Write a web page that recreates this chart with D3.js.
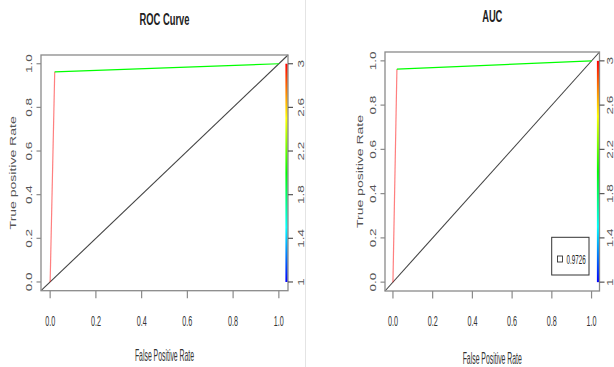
<!DOCTYPE html>
<html>
<head>
<meta charset="utf-8">
<script src="https://cdn.jsdelivr.net/npm/d3@7"></script>
<style>
  body { margin: 0; background: #fff; }
  svg { display: block; }
  text { font-family: "Liberation Sans", Arial, sans-serif; fill: #222; }
</style>
</head>
<body>
<div id="chart"></div>
<script>
// --- data ---
const fpr = [0, 0.02, 1];
const tpr = [0, 0.963, 1];
const cutoffs = [Infinity, 3, 2];          // cutoff at each ROC point
const axisTicks = [0, 0.2, 0.4, 0.6, 0.8, 1.0];
const cutoffTicks = [1, 1.4, 1.8, 2.2, 2.6, 3];
const panelTitles = ["ROC Curve", "AUC"];
const aucValue = "0.9726";

const w = 614, h = 367;

const svg = d3.select("#chart").append("svg")
    .attr("width", w)
    .attr("height", h);

svg.append("rect").attr("width", w).attr("height", h).attr("fill", "#fff");

// faint seam between the two screenshots
svg.append("line")
    .attr("x1", 305.5).attr("x2", 305.5).attr("y1", 0).attr("y2", h)
    .attr("stroke", "#e4e4e4");

// rainbow colour for cutoff values (1 = blue, 3 = red)
const cutColor = d3.scaleLinear().domain([1, 3]).range([240, 0]);
function colorOf(v) { return d3.hsl(cutColor(Math.min(v, 3)), 1, 0.5).toString(); }

// condensed text helper (the reference is squeezed horizontally)
function label(g, x, y, str, o) {
    const t = g.append("text")
        .attr("transform", "translate(" + x + "," + y + ") scale(" + o.sx + ",1)" + (o.rot ? " rotate(-90)" : ""))
        .attr("text-anchor", o.anchor || "middle")
        .attr("font-size", o.size)
        .text(str);
    if (o.bold) t.attr("font-weight", "bold");
    if (o.dy) t.attr("dy", o.dy);
    if (o.fill) t.style("fill", o.fill);
    return t;
}

const panels = [
    { x0: 41, x1: 288, y0: 290.7, y1: 55, titleY: 25, xlabY: 361, ytickX: 29, ylabX: 13, cbX: 301, legend: false },
    { x0: 385, x1: 599.5, y0: 291, y1: 52, titleY: 22, xlabY: 364, ytickX: 373, ylabX: 360, cbX: 609.5, legend: true }
];

// gradient for the colour bar
const defs = svg.append("defs");
const grad = defs.append("linearGradient")
    .attr("id", "cbar").attr("x1", 0).attr("x2", 0).attr("y1", 1).attr("y2", 0);
d3.range(0, 1.0001, 0.05).forEach(function (t) {
    grad.append("stop").attr("offset", t).attr("stop-color", colorOf(1 + 2 * t));
});

panels.forEach(function (p, i) {
    const g = svg.append("g");

    const xScale = d3.scaleLinear().domain([-0.04, 1.04]).range([p.x0, p.x1]);
    const yScale = d3.scaleLinear().domain([-0.04, 1.04]).range([p.y0, p.y1]);
    const cScale = d3.scaleLinear().domain([1, 3]).range([yScale(0), yScale(1)]);

    // diagonal reference line
    g.append("line")
        .attr("x1", xScale(-0.04)).attr("y1", yScale(-0.04))
        .attr("x2", xScale(1.04)).attr("y2", yScale(1.04))
        .attr("stroke", "#444").attr("stroke-width", 1.1);

    // colourised ROC segments
    g.selectAll("line.seg")
        .data(d3.range(fpr.length - 1))
        .enter()
        .append("line")
        .attr("class", "seg")
        .attr("x1", function (d) { return xScale(fpr[d]); })
        .attr("y1", function (d) { return yScale(tpr[d]); })
        .attr("x2", function (d) { return xScale(fpr[d + 1]); })
        .attr("y2", function (d) { return yScale(tpr[d + 1]); })
        .attr("stroke", function (d) { return colorOf(cutoffs[d + 1]); })
        .attr("stroke-opacity", function (d) { return d === 0 ? 0.5 : 1; })
        .attr("stroke-width", 1.2);

    // colour bar inside the right edge
    g.append("rect")
        .attr("x", p.x1 - 2.6).attr("width", 2.4)
        .attr("y", cScale(3)).attr("height", cScale(1) - cScale(3))
        .attr("fill", "url(#cbar)");

    // box
    g.append("rect")
        .attr("x", p.x0).attr("y", p.y1)
        .attr("width", p.x1 - p.x0).attr("height", p.y0 - p.y1)
        .attr("fill", "none").attr("stroke", "#8a8a8a").attr("stroke-width", 1.3);

    // x axis ticks
    g.selectAll("line.xt").data(axisTicks).enter().append("line")
        .attr("x1", xScale).attr("x2", xScale)
        .attr("y1", p.y0).attr("y2", p.y0 + 7.5)
        .attr("stroke", "#8a8a8a").attr("stroke-width", 1.2);
    axisTicks.forEach(function (d) {
        label(g, xScale(d), 325.5, d3.format(".1f")(d), { size: 15, sx: 0.48, fill: "#333" });
    });

    // y axis ticks
    g.selectAll("line.yt").data(axisTicks).enter().append("line")
        .attr("x1", p.x0 - 4.5).attr("x2", p.x0)
        .attr("y1", yScale).attr("y2", yScale)
        .attr("stroke", "#8a8a8a").attr("stroke-width", 1.2);
    axisTicks.forEach(function (d) {
        label(g, p.ytickX, yScale(d), d3.format(".1f")(d), { size: 13.5, sx: 0.68, rot: true, dy: "0.35em", fill: "#555" });
    });

    // colour bar axis
    g.selectAll("line.ct").data(cutoffTicks).enter().append("line")
        .attr("x1", p.x1).attr("x2", p.x1 + 5)
        .attr("y1", cScale).attr("y2", cScale)
        .attr("stroke", "#555").attr("stroke-width", 1.2);
    cutoffTicks.forEach(function (d) {
        label(g, p.cbX, cScale(d), String(d), { size: 13.5, sx: 0.68, rot: true, dy: "0.35em", fill: "#555" });
    });

    // titles and axis labels
    const cx = (p.x0 + p.x1) / 2;
    label(g, cx, p.titleY, panelTitles[i], { size: 17, sx: 0.55, bold: true });
    label(g, cx, p.xlabY, "False Positive Rate", { size: 16, sx: 0.43, fill: "#333" });
    label(g, p.ylabX, (p.y0 + p.y1) / 2, "True positive Rate", { size: 14, sx: 0.68, rot: true, dy: "0.35em", fill: "#555" });

    // AUC legend
    if (p.legend) {
        const lg = g.append("g");
        lg.append("rect")
            .attr("x", 551.7).attr("y", 237.3).attr("width", 37.3).attr("height", 37.7)
            .attr("fill", "#fff").attr("stroke", "#333").attr("stroke-width", 1);
        lg.append("rect")
            .attr("x", 557.5).attr("y", 256).attr("width", 5).attr("height", 6)
            .attr("fill", "none").attr("stroke", "#333").attr("stroke-width", 0.9);
        label(lg, 566.5, 263.5, aucValue, { size: 12.5, sx: 0.5, anchor: "start" });
    }
});
</script>
</body>
</html>
